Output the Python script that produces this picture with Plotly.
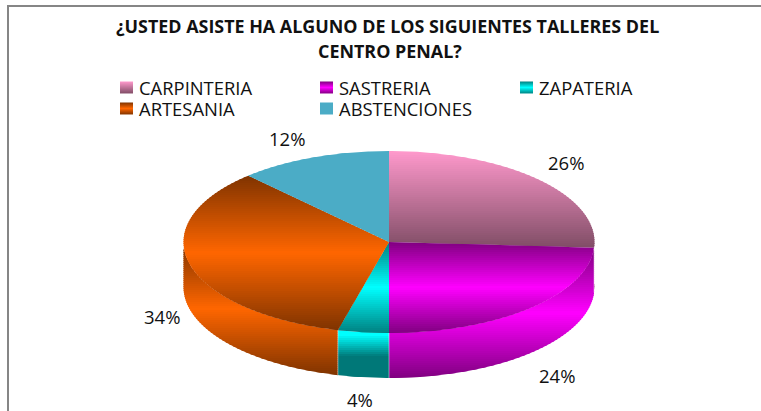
import numpy as np
import plotly.graph_objects as go

# chart values
categories = ["CARPINTERIA", "SASTRERIA", "ZAPATERIA", "ARTESANIA", "ABSTENCIONES"]
percents = [26, 24, 4, 34, 12]

title_lines = ["¿USTED ASISTE HA ALGUNO DE LOS SIGUIENTES TALLERES DEL", "CENTRO PENAL?"]

# gradients run top to bottom over each piece's own bounding box
PINK = [(0, "#ff99cc"), (1, "#804d66")]
PURPLE = [(0, "#800080"), (0.5, "#ff00ff"), (1, "#800080")]
TEAL = [(0, "#008080"), (0.5, "#00ffff"), (1, "#008080")]
TEAL_WALL = [(0, "#00ffff"), (0.1, "#00ffff"), (0.55, "#007878"), (1, "#007878")]
ORANGE = [(0, "#7f3300"), (0.5, "#ff6600"), (1, "#7f3300")]
BLUE = [(0, "#4bacc6"), (1, "#4bacc6")]
top_stops = [PINK, PURPLE, TEAL, ORANGE, BLUE]
wall_stops = [PINK, PURPLE, TEAL_WALL, ORANGE, BLUE]

W, H = 761, 411
CX, CY, RX, RY, DEPTH = 389, 242, 205.5, 91, 45
FONT = "Open Sans"


def hex_rgb(c):
    return np.array([int(c[i:i + 2], 16) for i in (1, 3, 5)], float)


def color_at(stops, t):
    pos = [s[0] for s in stops]
    cols = np.array([hex_rgb(s[1]) for s in stops])
    r, g, b = [np.interp(t, pos, cols[:, i]) for i in range(3)]
    return f"rgb({r:.0f},{g:.0f},{b:.0f})"


def clip_y(pts, y0, y1):
    # Sutherland-Hodgman against a horizontal strip
    def half(pts, keep, yc):
        out = []
        for i in range(len(pts)):
            a, b = pts[i - 1], pts[i]
            if keep(a[1]) != keep(b[1]):
                k = (yc - a[1]) / (b[1] - a[1])
                out.append((a[0] + k * (b[0] - a[0]), yc))
            if keep(b[1]):
                out.append(b)
        return out
    pts = half(pts, lambda y: y >= y0, y0)
    if pts:
        pts = half(pts, lambda y: y <= y1, y1)
    return pts


def add_gradient(fig, pts, stops, band=2):
    ys = [p[1] for p in pts]
    y_min, y_max = min(ys), max(ys)
    # whole-pixel bands, each overlapping the next so no seams show
    y = np.floor(y_min)
    while y < y_max:
        part = clip_y(pts, y, min(y + band + 1, y_max))
        if part:
            t = (y + band / 2 - y_min) / (y_max - y_min)
            fig.add_trace(go.Scatter(
                x=[p[0] for p in part] + [part[0][0]],
                y=[p[1] for p in part] + [part[0][1]],
                mode="lines", fill="toself", line=dict(width=0),
                fillcolor=color_at(stops, min(max(t, 0), 1)),
                hoverinfo="skip", showlegend=False))
        y += band


def ell(deg, dy=0.0):
    a = np.radians(deg)
    return (CX + RX * np.sin(a), CY - RY * np.cos(a) + dy)


fig = go.Figure()

edges = np.concatenate([[0], np.cumsum(percents)]) * 3.6

# side walls first, only the part of the rim facing the viewer
for i in range(len(percents)):
    a0, a1 = max(edges[i], 90), min(edges[i + 1], 270)
    if a1 <= a0:
        continue
    arc = np.linspace(a0, a1, 80)
    wall = [ell(a) for a in arc] + [ell(a, DEPTH) for a in arc[::-1]]
    add_gradient(fig, wall, wall_stops[i])

# top faces
for i in range(len(percents)):
    arc = np.linspace(edges[i], edges[i + 1], 120)
    face = [(CX, CY)] + [ell(a) for a in arc]
    add_gradient(fig, face, top_stops[i])

# pale seams where the wall pieces meet
for a in edges[1:4]:
    x0, y0 = ell(a)
    x1, y1 = ell(a, DEPTH)
    fig.add_trace(go.Scatter(x=[x0, x1], y=[y0, y1], mode="lines",
                             line=dict(color="rgba(255,255,255,0.45)", width=1),
                             hoverinfo="skip", showlegend=False))

# percent labels sit just outside the rim, nudged by hand
label_nudge = [(-3, -5), (-1, 9), (2, 4), (12, 2), (-11, -2)]
for i, p in enumerate(percents):
    mid = (edges[i] + edges[i + 1]) / 2
    a = np.radians(mid)
    lx = CX + 1.2 * RX * np.sin(a) + label_nudge[i][0]
    ly = CY - 1.2 * RY * np.cos(a) + label_nudge[i][1]
    if 90 < mid < 270:
        ly += DEPTH
    fig.add_annotation(x=lx, y=ly, text=f"{p}%", showarrow=False, borderpad=0,
                       font=dict(family=FONT, size=18.5, color="#111111"))

# legend drawn by hand to get the gradient swatches
LEG_X = [120, 320, 520]
LEG_Y = [87.5, 108.5]
for i, name in enumerate(categories):
    lx = LEG_X[i % 3]
    ly = LEG_Y[i // 3]
    swatch = [(lx, ly - 6), (lx + 13, ly - 6), (lx + 13, ly + 6), (lx, ly + 6)]
    add_gradient(fig, swatch, top_stops[i], band=1)
    fig.add_annotation(x=lx + 17, y=ly, text=name, showarrow=False, xanchor="left",
                       font=dict(family=FONT, size=18.4, color="#111111"))

# chart frame: only top and left edges are in the crop
fig.add_shape(type="line", x0=7, x1=W, y0=6, y1=6, line=dict(color="#868686", width=2))
fig.add_shape(type="line", x0=8, x1=8, y0=5, y1=H, line=dict(color="#868686", width=2))

for line, tx, ty in zip(title_lines, [387.5, 389.5], [26, 51]):
    fig.add_annotation(x=tx, y=ty, text=f"<b>{line}</b>", showarrow=False,
                       font=dict(family=FONT, size=17.9, color="#111111"))

fig.update_layout(
    width=W, height=H, margin=dict(l=0, r=0, t=0, b=0),
    paper_bgcolor="white", plot_bgcolor="white", showlegend=False,
    xaxis=dict(range=[0, W], visible=False, fixedrange=True),
    yaxis=dict(range=[H, 0], visible=False, fixedrange=True),
)
fig.write_html("out.html", config=dict(displayModeBar=False),
               post_script="document.body.style.margin='0';")
